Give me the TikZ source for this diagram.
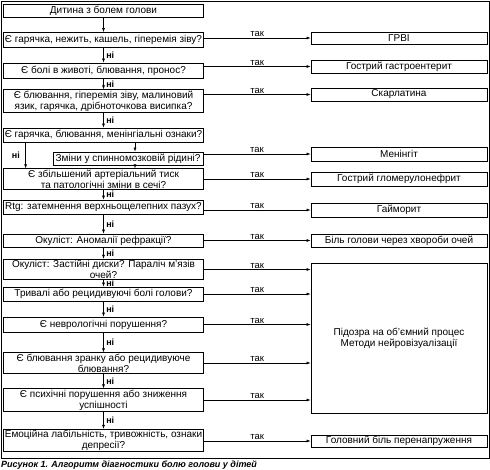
\documentclass[tikz,border=0pt]{standalone}
\usepackage{fontspec}
\setmainfont{Liberation Sans}
\usetikzlibrary{arrows.meta}

\begin{document}
\begin{tikzpicture}[
    x=1pt, y=-1pt,
    lbox/.style={
        rectangle,
        draw=black,
        line width=0.8pt,
        minimum width=200pt,
        minimum height=14pt,
        align=center,
        font=\fontsize{10}{11}\selectfont,
        inner sep=1pt
    },
    rbox/.style={lbox, minimum width=176pt},
    arrow/.style={-{Latex[length=4pt,width=3pt]}, line width=0.6pt},
    yes/.style={above, inner sep=1pt, font=\fontsize{9.5}{11}\selectfont},
    no/.style={right, inner sep=2.5pt, font=\bfseries\fontsize{9}{10}\selectfont}
]
\useasboundingbox (0,0) rectangle (490,470);
\draw[line width=0.8pt] (1,1) rectangle (489,458);

\node[lbox, minimum height=13pt] (start) at (103.5,10.5) {Дитина з болем голови};
\node[lbox, minimum height=15pt] (fever) at (103.5,40) {Є гарячка, нежить, кашель, гіперемія зіву?};
\node[lbox, minimum height=15pt] (belly) at (103.5,70.5) {Є болі в животі, блювання, пронос?};
\node[lbox] (scarlet) at (103.5,101) {Є блювання, гіперемія зіву, малиновий\\язик, гарячка, дрібноточкова висипка?};
\node[lbox] (mening) at (103.5,135) {Є гарячка, блювання, менінгіальні ознаки?};
\node[lbox, minimum width=150pt, minimum height=13pt] (csf) at (128,158.5) {Зміни у спинномозковій рідині?};
\node[lbox] (pressure) at (103.5,179) {Є збільшений артеріальний тиск\\та патологічні зміни в сечі?};
\node[lbox] (sinus) at (103.5,207) {Rtg: затемнення верхньощелепних пазух?};
\node[lbox, minimum height=13pt] (refract) at (103.5,240.5) {Окуліст: Аномалії рефракції?};
\node[lbox] (discs) at (103.5,269.5) {Окуліст: Застійні диски? Параліч м’язів\\очей?};
\node[lbox] (chronic) at (103.5,294) {Тривалі або рецидивуючі болі голови?};
\node[lbox, minimum height=15pt] (neuro) at (103.5,324.5) {Є неврологічні порушення?};
\node[lbox] (vomit) at (103.5,363) {Є блювання зранку або рецидивуюче\\блювання?};
\node[lbox] (psych) at (103.5,400) {Є психічні порушення або зниження\\успішності};
\node[lbox] (emotion) at (103.5,440.5) {Емоційна лабільність, тривожність, ознаки\\депресії?};

\node[rbox, minimum height=12pt] (ari) at (399,38) {ГРВІ};
\node[rbox, minimum height=13pt] (gastro) at (399,66.5) {Гострий гастроентерит};
\node[rbox, minimum height=13pt] (scarl) at (399,94.5) {Скарлатина};
\node[rbox] (meningitis) at (399,154) {Менінгіт};
\node[rbox] (nephritis) at (399,179) {Гострий гломерулонефрит};
\node[rbox] (sinusitis) at (399,210) {Гайморит};
\node[rbox, minimum height=13pt] (eyes) at (399,240.5) {Біль голови через хвороби очей};
\node[rbox, minimum height=150pt] (tumour) at (399,338) {Підозра на об’ємний процес\\Методи нейровізуалізації};
\node[rbox, minimum height=12pt] (tension) at (399,441) {Головний біль перенапруження};

\draw[arrow] (start) -- (fever);
\draw[arrow] (fever) -- node[no]{ні} (belly);
\draw[arrow] (belly) -- node[no]{ні} (scarlet);
\draw[arrow] (scarlet) -- node[no]{ні} (mening);
\draw[arrow] ([xshift=7pt]csf.north |- mening.south) -- ([xshift=7pt]csf.north);
\draw[arrow] ([xshift=7pt]csf.south) -- ([xshift=7pt]csf.south |- pressure.north);
\draw[arrow] ([xshift=22.5pt]mening.south west) -- node[no, left, xshift=-3pt]{ні} ([xshift=22.5pt]pressure.north west);
\draw[arrow] (pressure) -- node[no]{ні} (sinus);
\draw[arrow] (sinus) -- node[no]{ні} (refract);
\draw[arrow] (refract) -- node[no]{ні} (discs);
\draw[arrow] (discs) -- node[no]{ні} (chronic);
\draw[arrow] (chronic) -- node[no]{ні} (neuro);
\draw[arrow] (neuro) -- node[no]{ні} (vomit);
\draw[arrow] (vomit) -- node[no]{ні} (psych);
\draw[arrow] (psych) -- node[no]{ні} (emotion);

\draw[arrow] (ari.west -| fever.east) -- node[yes]{так} (ari.west);
\draw[arrow] (gastro.west -| belly.east) -- node[yes]{так} (gastro.west);
\draw[arrow] (scarl.west -| scarlet.east) -- node[yes]{так} (scarl.west);
\draw[arrow] (meningitis.west -| csf.east) -- node[yes]{так} (meningitis.west);
\draw[arrow] (nephritis.west -| pressure.east) -- node[yes]{так} (nephritis.west);
\draw[arrow] (sinusitis.west -| sinus.east) -- node[yes]{так} (sinusitis.west);
\draw[arrow] (eyes.west -| refract.east) -- node[yes]{так} (eyes.west);
\draw[arrow] (discs.east) -- node[yes]{так} (discs.east -| tumour.west);
\draw[arrow] (chronic.east) -- node[yes]{так} (chronic.east -| tumour.west);
\draw[arrow] (neuro.east) -- node[yes]{так} (neuro.east -| tumour.west);
\draw[arrow] (vomit.east) -- node[yes]{так} (vomit.east -| tumour.west);
\draw[arrow] (psych.east) -- node[yes]{так} (psych.east -| tumour.west);
\draw[arrow] (tension.west -| emotion.east) -- node[yes]{так} (tension.west);

\node[anchor=base west, inner sep=0, font=\bfseries\itshape\fontsize{9}{10}\selectfont] (caption) at (1,467) {Рисунок 1. Алгоритм діагностики болю голови у дітей};

\end{tikzpicture}
\end{document}
